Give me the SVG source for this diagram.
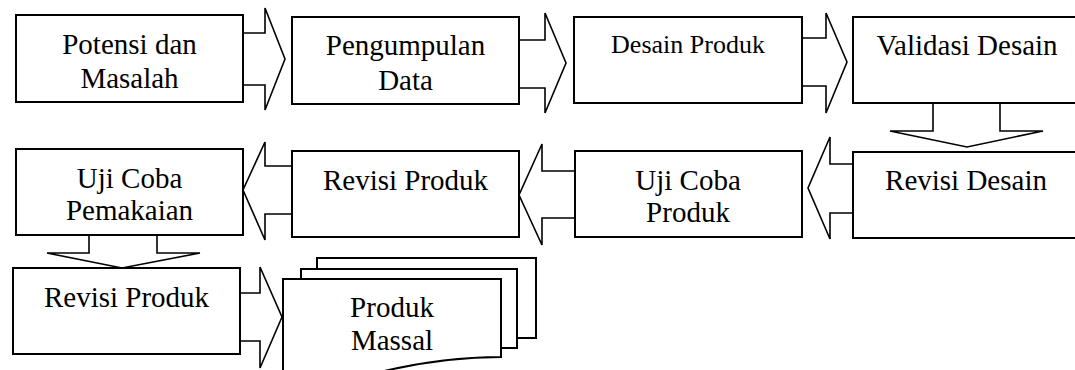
<svg xmlns="http://www.w3.org/2000/svg" width="1075" height="370" viewBox="0 0 1075 370">
<style>
.box{fill:#fff;stroke:#000;stroke-width:2}
.arr{fill:#fff;stroke:#000;stroke-width:1.6;stroke-linejoin:miter}
.t{font-family:'Liberation Serif','DejaVu Serif',serif;font-size:29px;fill:#000;text-anchor:middle}
.sm{font-size:26px}
</style>
<rect width="1075" height="370" fill="#fff"/>
<g id="connectors">
<polyline class="arr" points="243,33 265,33 265,8 285,59 265,110 265,85 243,85"/>
<polyline class="arr" points="519,40 545,40 545,13 566,63 545,113 545,88 519,88"/>
<polyline class="arr" points="802,38 826,38 826,13 847,62 826,113 826,86 802,86"/>
<polyline class="arr" points="933,103 933,131 890,131 967,147 1043,131 1000,131 1000,103"/>
<polyline class="arr" points="853,164 830,164 830,137 808,188 830,239 830,213 853,213"/>
<polyline class="arr" points="575,171 542,171 542,144 519,195 542,245 542,218 575,218"/>
<polyline class="arr" points="292,166 265,166 265,142 243,190 265,240 265,214 292,214"/>
<polyline class="arr" points="89,235 89,253 47,253 122,268 200,253 157,253 157,235"/>
<polyline class="arr" points="240,293 260,293 260,267 282,317 260,368 260,341 240,341"/>
</g>
<g id="n1"><rect class="box" x="16" y="15" width="227" height="87"/><text class="t" x="129.5" y="54">Potensi dan</text><text class="t" x="129.5" y="88">Masalah</text></g>
<g id="n2"><rect class="box" x="292" y="17" width="227" height="87"/><text class="t" x="405.5" y="55">Pengumpulan</text><text class="t" x="405.5" y="90">Data</text></g>
<g id="n3"><rect class="box" x="574" y="17" width="228" height="86"/><text class="t sm" x="688" y="53">Desain Produk</text></g>
<g id="n4"><rect class="box" x="853" y="17" width="230" height="86"/><text class="t" x="967" y="55">Validasi Desain</text></g>
<g id="n5"><rect class="box" x="853" y="152" width="230" height="86"/><text class="t" x="966" y="190">Revisi Desain</text></g>
<g id="n6"><rect class="box" x="575" y="151" width="227" height="86"/><text class="t" x="688" y="190">Uji Coba</text><text class="t" x="688" y="222">Produk</text></g>
<g id="n7"><rect class="box" x="292" y="151" width="227" height="86"/><text class="t" x="405.5" y="190">Revisi Produk</text></g>
<g id="n8"><rect class="box" x="16" y="149" width="227" height="86"/><text class="t" x="129.5" y="188">Uji Coba</text><text class="t" x="129.5" y="220">Pemakaian</text></g>
<g id="n9"><rect class="box" x="13" y="268" width="227" height="86"/><text class="t" x="126.5" y="307">Revisi Produk</text></g>
<g id="n10">
<rect class="box" x="317" y="258" width="219" height="80"/>
<rect class="box" x="301" y="269" width="216" height="79"/>
<path class="box" d="M283,279 L501,279 L501,357 C470,357 430,360 380,372 C340,382 305,380 283,376 Z"/>
<text class="t" x="392" y="317">Produk</text><text class="t" x="392" y="350">Massal</text>
</g>
</svg>
